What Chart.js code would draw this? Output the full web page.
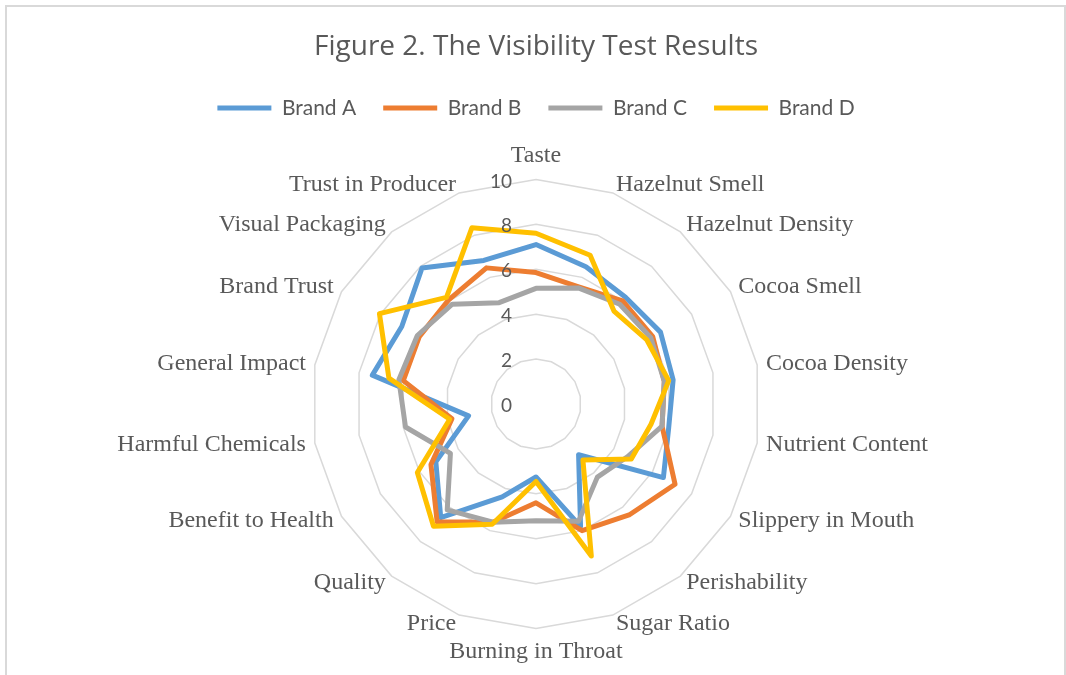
<!DOCTYPE html>
<html>
<head>
<meta charset="utf-8">
<script src="https://cdn.jsdelivr.net/npm/chart.js@4/dist/chart.umd.min.js"></script>
<style>
  html, body { margin: 0; padding: 0; background: #fff; }
  #frame { position: absolute; left: 5px; top: 5px; width: 1061px; height: 720px; border: 2px solid #d9d9d9; box-sizing: border-box; }
  #radar { position: absolute; left: 0; top: 0; }
</style>
</head>
<body>
<div id="frame"></div>
<canvas id="radar" width="1066" height="675"></canvas>
<script>
'use strict';

const attributes = [
  'Taste', 'Hazelnut Smell', 'Hazelnut Density', 'Cocoa Smell', 'Cocoa Density',
  'Nutrient Content', 'Slippery in Mouth', 'Perishability', 'Sugar Ratio',
  'Burning in Throat', 'Price', 'Quality', 'Benefit to Health', 'Harmful Chemicals',
  'General Impact', 'Brand Trust', 'Visual Packaging', 'Trust in Producer'
];

const brandA = [7.1, 6.5, 6.2, 6.4, 6.2, 6.0, 6.55, 2.95, 5.8, 3.25, 4.4, 6.6, 5.15, 3.05, 7.4, 6.9, 7.9, 6.8];
const brandB = [5.85, 5.55, 6.0, 6.0, 5.8, 5.7, 7.15, 6.45, 6.0, 4.4, 5.6, 6.85, 5.4, 3.8, 6.0, 6.0, 6.05, 6.45];
const brandC = [5.15, 5.5, 5.8, 5.9, 5.8, 5.7, 4.7, 4.25, 5.55, 5.2, 5.6, 6.15, 4.4, 5.9, 6.2, 6.1, 5.8, 4.8];
const brandD = [7.6, 7.05, 5.4, 5.7, 6.0, 5.2, 4.9, 3.25, 7.2, 3.45, 5.7, 7.1, 6.1, 3.9, 6.65, 8.05, 6.2, 8.35];

const tickValues = [0, 2, 4, 6, 8, 10];

const textGrey = '#595959';
const sans = "Lato, 'Open Sans', sans-serif";
const titleFont = "'Open Sans', Lato, sans-serif";
const serif = "'Liberation Serif', 'Times New Roman', serif";

// excel puts the axis numbers left of the vertical axis, including the 0
const tickLabels = {
  id: 'tickLabels',
  afterDatasetsDraw(chart) {
    const scale = chart.scales.r;
    const ctx = chart.ctx;
    ctx.save();
    ctx.font = '19px ' + sans;
    ctx.fillStyle = textGrey;
    ctx.textAlign = 'right';
    ctx.textBaseline = 'middle';
    tickValues.forEach((v) => {
      const y = scale.yCenter - scale.getDistanceFromCenterForValue(v) + 2;
      ctx.fillText(String(v), scale.xCenter - 24, y);
    });
    ctx.restore();
  }
};

// a bit more room under the legend
const legendGap = {
  id: 'legendGap',
  beforeLayout(chart) {
    const legend = chart.legend;
    if (legend && !legend._gapAdded) {
      const fit = legend.fit;
      legend.fit = function () {
        fit.call(this);
        this.height += 13;
      };
      legend._gapAdded = true;
    }
  }
};

function brand(label, values, colour, order) {
  return {
    label: label,
    data: values,
    borderColor: colour,
    backgroundColor: colour,
    borderWidth: 5,
    borderJoinStyle: 'round',
    borderCapStyle: 'round',
    pointRadius: 0,
    pointHoverRadius: 0,
    fill: false,
    order: order,
  };
}

new Chart(document.querySelector('#radar'), {
  type: 'radar',
  data: {
    labels: attributes,
    datasets: [
      brand('Brand A', brandA, '#5b9bd5', 4),
      brand('Brand B', brandB, '#ed7d31', 3),
      brand('Brand C', brandC, '#a5a5a5', 2),
      brand('Brand D', brandD, '#ffc000', 1),
    ]
  },
  options: {
    responsive: false,
    animation: false,
    layout: { padding: { top: 0, bottom: 8, left: 6, right: 0 } },
    plugins: {
      title: {
        display: true,
        text: 'Figure 2. The Visibility Test Results',
        color: textGrey,
        font: { family: titleFont, size: 28, weight: 'normal' },
        padding: { top: 30, bottom: 7 }
      },
      legend: {
        position: 'top',
        labels: {
          usePointStyle: true,
          pointStyle: 'line',
          pointStyleWidth: 54,
          color: textGrey,
          font: { family: sans, size: 21 },
          padding: 27,
          sort: (a, b) => a.datasetIndex - b.datasetIndex
        }
      },
      tooltip: { enabled: false }
    },
    scales: {
      r: {
        min: 0,
        max: 10,
        ticks: { stepSize: 2, display: false },
        grid: { color: '#d9d9d9', lineWidth: 1.5 },
        angleLines: { display: false },
        pointLabels: {
          color: textGrey,
          padding: 9,
          // labels sit centred on their spoke like excel, except top and bottom
          font: (ctx) => ({
            family: serif,
            size: 24,
            lineHeight: ctx.index % 9 === 0 ? 1.2 : 0.01
          })
        }
      }
    }
  },
  plugins: [tickLabels, legendGap]
});
</script>
</body>
</html>
